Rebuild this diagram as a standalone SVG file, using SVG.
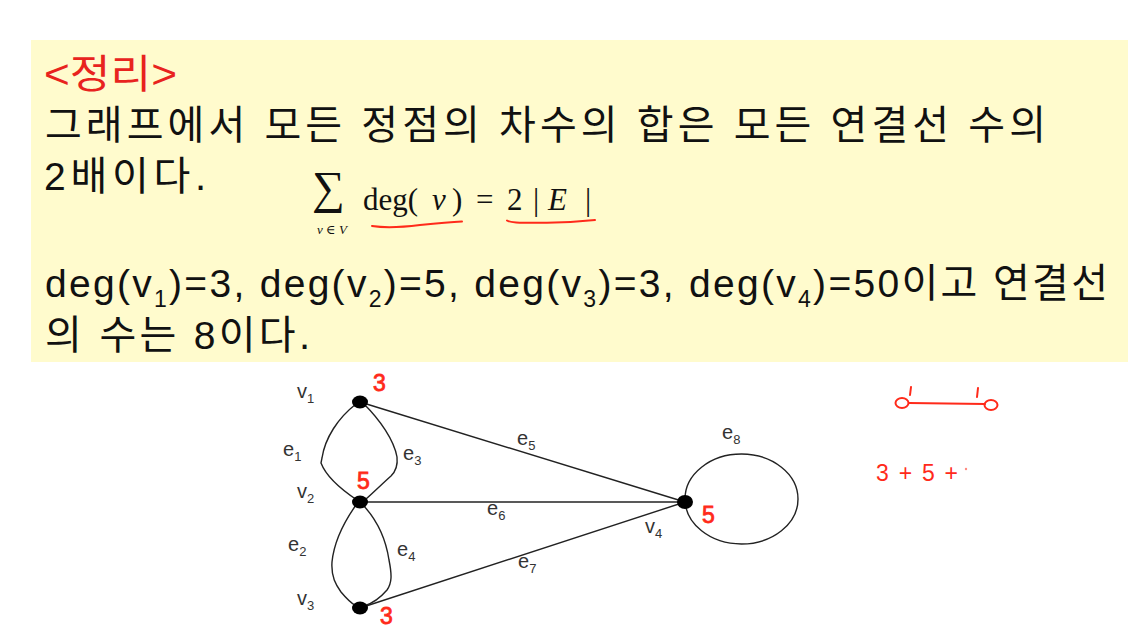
<svg xmlns="http://www.w3.org/2000/svg" width="1128" height="637" viewBox="0 0 1128 637">
<defs>
<style>
.kr{font-family:"Liberation Sans","Noto Sans CJK KR",sans-serif;fill:#111;}
.ttl{font-family:"Liberation Sans","Noto Sans CJK KR",sans-serif;fill:#e8231e;}
.math{font-family:"Liberation Serif","DejaVu Serif",serif;fill:#111;}
.lbl{font-family:"Liberation Sans","Arial",sans-serif;font-size:20px;fill:#333;}
.sub{font-size:13px;}
.hand{font-family:"Liberation Sans",sans-serif;font-size:23px;fill:#ff2a1a;}
.edge{fill:none;stroke:#222;stroke-width:1.4;}
.red{fill:none;stroke:#ff2a1a;stroke-width:2;stroke-linecap:round;}
.dot{fill:#000;}
</style>
</defs>
<rect width="1128" height="637" fill="#ffffff"/>
<rect x="31" y="40" width="1097" height="322" fill="#fffbcd"/>

<g id="theorem-text">
<text class="ttl" x="44" y="88" font-size="40" textLength="133" lengthAdjust="spacingAndGlyphs">&lt;정리&gt;</text>
<text class="kr" x="45" y="139" font-size="40" textLength="1001" lengthAdjust="spacing">그래프에서 모든 정점의 차수의 합은 모든 연결선 수의</text>
<text class="kr" x="44" y="190" font-size="40" textLength="162" lengthAdjust="spacing"><tspan font-size="39">2</tspan>배이다.</text>
<text class="kr" x="45" y="297" font-size="39" textLength="1063" lengthAdjust="spacing">deg(v<tspan font-size="23" dy="10">1</tspan><tspan dy="-10">)=3, deg(v</tspan><tspan font-size="23" dy="10">2</tspan><tspan dy="-10">)=5, deg(v</tspan><tspan font-size="23" dy="10">3</tspan><tspan dy="-10">)=3, deg(v</tspan><tspan font-size="23" dy="10">4</tspan><tspan dy="-10">)=50</tspan><tspan font-size="40">이고 연결선</tspan></text>
<text class="kr" x="45" y="349" font-size="40" textLength="265" lengthAdjust="spacing">의 수는 <tspan font-size="39">8</tspan>이다.</text>
</g>

<g id="formula">
<text class="math" x="312" y="203" font-size="46">∑</text>
<text class="math" x="317" y="234" font-size="13"><tspan font-style="italic">v</tspan> ∈ <tspan font-style="italic">V</tspan></text>
<text class="math" font-size="31" y="210"><tspan x="363">deg(</tspan><tspan x="432" font-style="italic">v</tspan><tspan x="452">)</tspan><tspan x="476">=</tspan><tspan x="507">2</tspan><tspan x="533">|</tspan><tspan x="548" font-style="italic">E</tspan><tspan x="585">|</tspan></text>
<path class="red" d="M372,226 C385,228 400,227.5 420,225 C440,223 452,222 462,221.5"/>
<path class="red" d="M507,220.5 C510,222.5 515,223 547,222.8 C570,222.5 585,221 595,220"/>
</g>

<g id="edges">
<path id="e1" class="edge" d="M356,404 C338,418 325,438 322,458 L321,463 C326,476 342,490 357,500"/>
<path id="e3" class="edge" d="M364,404 C380,420 394,440 397,457 C398,466 396,471 391,476 C382,484 374,492 366,499"/>
<path id="e2" class="edge" d="M356,505 C344,522 334,542 332,562 C331,577 336,585 341,592 C346,598 351,603 356,606"/>
<path id="e4" class="edge" d="M363,505 C377,520 386,540 389,560 C392,575 392,583 387,590 C381,597 374,603 364,606"/>
<line id="e5" class="edge" x1="360" y1="402" x2="685" y2="502"/>
<line id="e6" class="edge" x1="360" y1="502" x2="685" y2="502"/>
<line id="e7" class="edge" x1="360" y1="608" x2="685" y2="502"/>
<ellipse id="e8" class="edge" cx="741.5" cy="499" rx="56.5" ry="45"/>
</g>

<g id="v1"><ellipse class="dot" cx="360" cy="402" rx="8" ry="6.5"/><text class="lbl" x="297" y="398">v<tspan class="sub" dy="5">1</tspan></text></g>
<g id="v2"><ellipse class="dot" cx="360" cy="502" rx="8" ry="6.5"/><text class="lbl" x="297" y="498">v<tspan class="sub" dy="5">2</tspan></text></g>
<g id="v3"><ellipse class="dot" cx="360" cy="608" rx="8" ry="6.5"/><text class="lbl" x="297" y="605">v<tspan class="sub" dy="5">3</tspan></text></g>
<g id="v4"><ellipse class="dot" cx="685" cy="502" rx="8" ry="7"/><text class="lbl" x="645" y="533">v<tspan class="sub" dy="5">4</tspan></text></g>

<g id="edge-labels">
<text class="lbl" x="283" y="456">e<tspan class="sub" dy="5">1</tspan></text>
<text class="lbl" x="288" y="551">e<tspan class="sub" dy="5">2</tspan></text>
<text class="lbl" x="403" y="460">e<tspan class="sub" dy="5">3</tspan></text>
<text class="lbl" x="397" y="556">e<tspan class="sub" dy="5">4</tspan></text>
<text class="lbl" x="517" y="445">e<tspan class="sub" dy="5">5</tspan></text>
<text class="lbl" x="487" y="515">e<tspan class="sub" dy="5">6</tspan></text>
<text class="lbl" x="518" y="568">e<tspan class="sub" dy="5">7</tspan></text>
<text class="lbl" x="722" y="439">e<tspan class="sub" dy="5">8</tspan></text>
</g>

<g id="annotations">
<text class="hand" x="373" y="391" stroke="#ff2a1a" stroke-width="0.8">3</text>
<text class="hand" x="357" y="489" stroke="#ff2a1a" stroke-width="0.8">5</text>
<text class="hand" x="380" y="624" stroke="#ff2a1a" stroke-width="0.8">3</text>
<text class="hand" x="702" y="523" stroke="#ff2a1a" stroke-width="0.8">5</text>
<ellipse class="red" cx="902" cy="403" rx="6.5" ry="5" stroke-width="2.4"/>
<line class="red" x1="909" y1="403" x2="985" y2="404" stroke-width="2.4"/>
<ellipse class="red" cx="991" cy="405" rx="6.5" ry="5" stroke-width="2.4"/>
<line class="red" x1="911" y1="387" x2="910" y2="395" stroke-width="2"/>
<line class="red" x1="978" y1="388" x2="977" y2="397" stroke-width="2"/>
<text class="hand" x="876" y="481" font-size="24" textLength="82" lengthAdjust="spacing">3+5+</text>
<circle cx="966" cy="469" r="1.2" fill="#ff8a80"/>
</g>
</svg>
